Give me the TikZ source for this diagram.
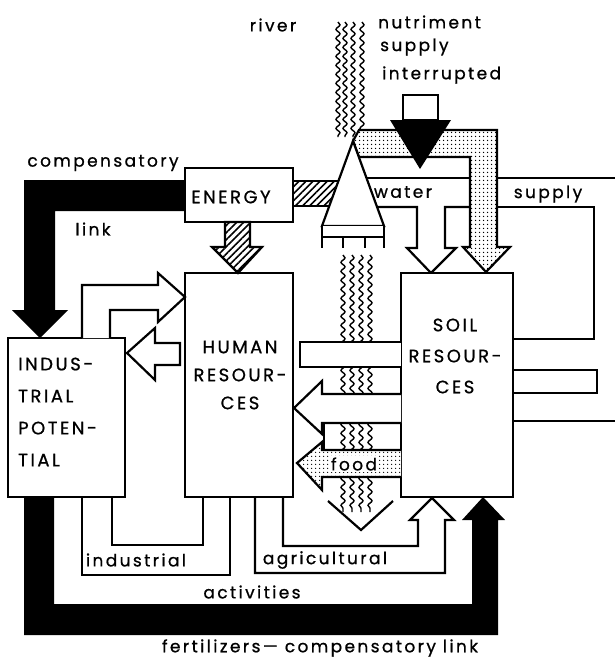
\documentclass[tikz,border=0pt]{standalone}
\usepackage{fontspec}
\setmainfont{Poppins}[LetterSpace=14,FakeBold=0.8]
\usetikzlibrary{patterns.meta,decorations.pathmorphing}
\begin{document}
\begin{tikzpicture}[x=1pt,y=-1pt,
  ln/.style={line width=2.2pt,line join=miter},
  box/.style={draw,line width=2.2pt,fill=white,rectangle,inner sep=0pt},
  lbl/.style={font=\fontsize{17}{17}\selectfont,inner sep=0pt},
  captxt/.style={font=\fontsize{18}{28}\selectfont,inner sep=0pt},
  wavy/.style={line width=1.4pt,decorate,decoration={snake,segment length=9pt,amplitude=2pt}},
  hatch/.style={pattern={Lines[angle=45,distance=5pt,line width=1.6pt]}},
  stip/.style={preaction={fill=white},pattern={Dots[distance=4pt,radius=0.9pt]}},
]
\useasboundingbox (0,0) rectangle (615,664);
% river lines
\foreach \x in {338,345,353,362} \draw[wavy] (\x,22) -- (\x,137);
\foreach \x in {343,352,361,370} \draw[wavy] (\x,255) -- (\x,512);
\draw[ln] (328,501) -- (361,530) -- (393,501);
% black compensatory links
\fill (24,180)--(185,180)--(185,211)--(55,211)--(55,310)--(68,310)--(40,338)--(12,310)--(24,310)--cycle;
\fill (24,497)--(24,635)--(498,635)--(498,520)--(505,520)--(483,497)--(462,520)--(472,520)--(472,604)--(54,604)--(54,497)--cycle;
% hatched energy band to dam
\fill[hatch] (293,181)--(339,181)--(329,206)--(293,206)--cycle;
\draw[ln] (293,181)--(339,181) (293,206)--(329,206);
% water band
\draw[ln] (367,178)--(615,178);
\draw[ln,fill=white] (377,207)--(417,207)--(417,248)--(407,248)--(431,273)--(456,248)--(445,248)--(445,207)--(470,207);
\draw[ln] (497,207)--(594,207)--(594,339)--(513,339);
\draw[ln] (513,370)--(597,370)--(597,393)--(513,393);
\draw[ln] (513,421)--(615,421);
% boxes
\node[box,minimum width=117pt,minimum height=159pt] (indus) at (66.5,417.5) {};
\node[box,minimum width=108pt,minimum height=224pt] (human) at (239,385) {};
\node[box,minimum width=112pt,minimum height=224pt] (soil) at (457,385) {};
\node[box,minimum width=108pt,minimum height=54pt] (energy) at (239,195) {};
% hatched arrow energy -> human
\draw[ln,hatch] (225,222)--(250,222)--(250,247)--(262,247)--(238,273)--(212,247)--(225,247)--cycle;
% stippled nutriment arrow
\draw[ln,stip] (353,141)--(359,130)--(497,130)--(497,247)--(510,247)--(486,272)--(463,247)--(470,247)--(470,157)--(359,157)--cycle;
% interrupted
\draw[ln,fill=white] (403,95) rectangle (438,120);
\fill (390,120)--(451,120)--(420,169)--cycle;
% dam
\filldraw[ln,fill=white] (353,141)--(384,226)--(322,226)--cycle;
\fill[white] (322,226) rectangle (384,237);
\draw[ln] (322,226)--(322,248) (384,226)--(384,248) (322,237)--(384,237) (343,237)--(343,248) (365,237)--(365,248);
% middle flows between human and soil
\fill[white] (300,342) rectangle (401,367);
\draw[ln] (401,342)--(300,342)--(300,367)--(401,367);
\draw[ln,fill=white] (401,394)--(322,394)--(322,381)--(294,408)--(322,434)--(322,423)--(401,423);
\draw[ln] (324,423)--(324,450);
\draw[ln,stip] (401,450)--(322,450)--(322,442)--(297,463)--(322,490)--(322,477)--(401,477);
% industrial <-> human
\draw[ln,fill=white] (82,338)--(82,285)--(158,285)--(158,273)--(185,297)--(158,322)--(158,310)--(110,310)--(110,338);
\draw[ln,fill=white] (180,343)--(155,343)--(155,328)--(127,353)--(155,380)--(155,365)--(180,365)--cycle;
% activities
\draw[ln] (82,497)--(82,575)--(230,575)--(230,497);
\draw[ln] (112,497)--(112,545)--(203,545)--(203,497);
\draw[ln] (255,497)--(255,573)--(445,573)--(445,520)--(454,520)--(432,498)--(410,520)--(418,520)--(418,546)--(283,546)--(283,497);
% texts
\node[lbl] (triver) at (273,25) {river};
\node[lbl,anchor=west] (tnut) at (378,22) {nutriment};
\node[lbl,anchor=west] (tsup) at (380,47) {supply};
\node[lbl,anchor=west] (tint) at (382,75) {interrupted};
\node[lbl] (tcomp) at (103,163) {compensatory};
\node[lbl] (tlink) at (93,229) {link};
\node[captxt] (tenergy) at (231,197) {ENERGY};
\node[lbl] (twater) at (403,192) {water};
\node[lbl] (tsupply) at (548,194) {supply};
\node[captxt,align=center,font=\fontsize{18}{28}\selectfont] (thuman) at (240,375) {HUMAN\\RESOUR-\\CES};
\node[captxt,align=center,font=\fontsize{18}{31}\selectfont] (tsoil) at (455,356) {SOIL\\RESOUR-\\CES};
\node[captxt,align=left,anchor=west,font=\fontsize{18}{32}\selectfont] (tindus) at (18,412) {INDUS-\\TRIAL\\POTEN-\\TIAL};
\node[lbl,fill=white,inner sep=1pt] (tfood) at (354,464) {food};
\node[lbl] (tind) at (136,560) {industrial};
\node[lbl] (tagr) at (325,560) {agricultural};
\node[lbl] (tact) at (252,592) {activities};
\node[lbl] (tfert) at (320,648) {fertilizers— compensatory link};
\end{tikzpicture}
\end{document}
